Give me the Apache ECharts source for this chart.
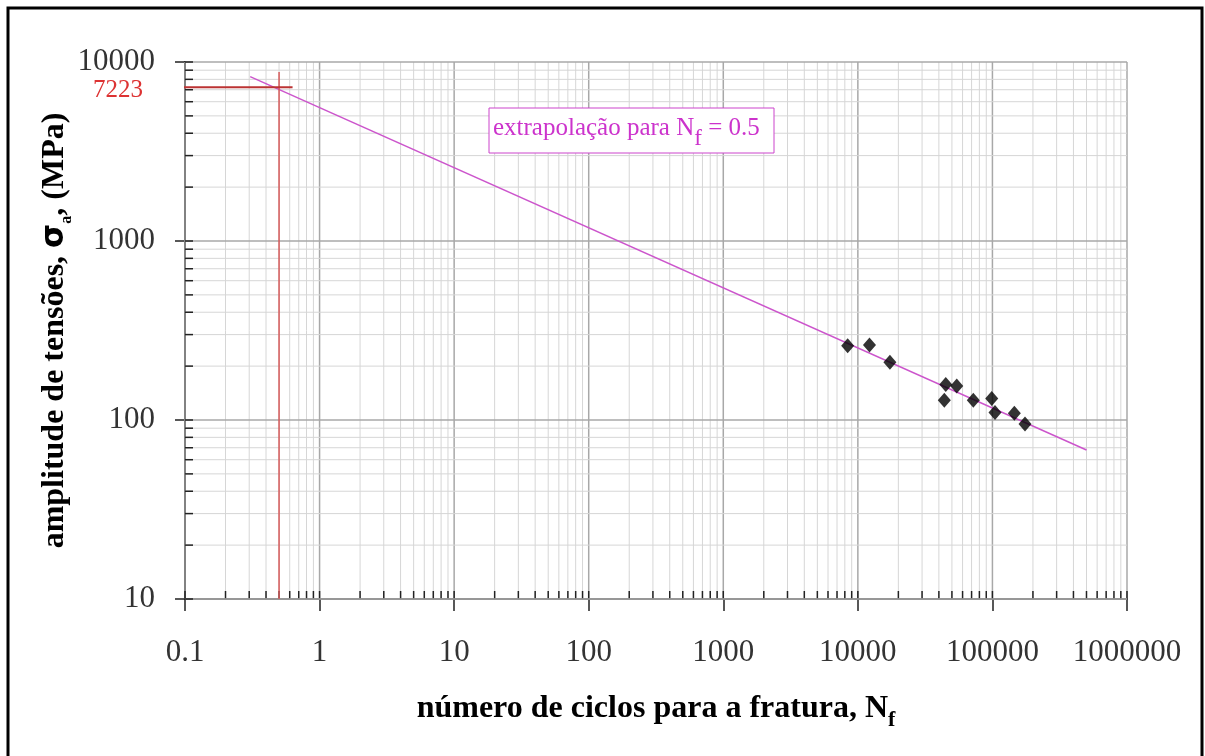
<!DOCTYPE html>
<html lang="pt">
<head>
  <meta charset="UTF-8">
  <title>Curva S-N</title>
  <script src="https://cdn.jsdelivr.net/npm/echarts@6/dist/echarts.min.js"></script>
</head>
<body style="margin:0;background:#fff;">
<div id="main" style="width:1205px;height:756px;"></div>
<script type="text/javascript">

// ciclos para a fratura (Nf) e amplitude de tensões (MPa) dos ensaios
const ciclos = [8400, 12200, 17300, 45000, 54300, 43900, 72100, 98800, 104500, 145500, 174600];
const tensoes = [260, 262, 210, 158, 155, 129, 129, 132, 110, 109, 95];

// reta de Basquin (extremos)
const retaCiclos = [0.305, 500000];
const retaTensoes = [8280, 68];

// extrapolação para Nf = 0.5
const nExtrap = 0.5;
const sigmaExtrap = 7223;
const topoVertical = 8800;
const horizCiclos = [0.0504, 0.63];

const xTickLabels = ['0.1', '1', '10', '100', '1000', '10000', '100000', '1000000'];
const yTickLabels = ['10', '100', '1000', '10000'];

const xMin = 0.1, xMax = 1000000, yMin = 10, yMax = 10000;

// posições das linhas de grade (1..9 em cada década)
function logPositions(min, max) {
  const out = [];
  for (let d = Math.round(Math.log10(min)); d < Math.round(Math.log10(max)); d++) {
    for (let m = 1; m < 10; m++) out.push([m * Math.pow(10, d), m === 1]);
  }
  out.push([max, true]);
  return out;
}
const xGrid = logPositions(xMin, xMax);
const yGrid = logPositions(yMin, yMax);

const serif = 'Liberation Serif';
const myChart = echarts.init(document.getElementById('main'));

function gridLine(major) {
  return {stroke: major ? '#a8a8a8' : '#d6d6d6', lineWidth: major ? 1.5 : 1};
}

const option = {
  animation: false,
  grid: {left: 185, right: 78, top: 62, bottom: 157},
  xAxis: {
    type: 'log',
    logBase: 10,
    min: xMin,
    max: xMax,
    splitNumber: 7,
    splitLine: {show: false},
    axisLine: {lineStyle: {color: '#333', width: 1.5}},
    axisTick: {length: 12, lineStyle: {color: '#222', width: 1.5}},
    axisLabel: {
      margin: 38,
      fontFamily: serif,
      fontSize: 31,
      color: '#333',
      formatter: v => xTickLabels[Math.round(Math.log10(v)) + 1]
    },
    name: '{t|número de ciclos para a fratura, N}{s|f}',
    nameLocation: 'middle',
    nameGap: 94,
    nameTextStyle: {
      rich: {
        t: {fontFamily: serif, fontWeight: 'bold', fontSize: 32, color: '#000', lineHeight: 38, verticalAlign: 'top'},
        s: {fontFamily: serif, fontWeight: 'bold', fontSize: 22, color: '#000', lineHeight: 38, verticalAlign: 'bottom'}
      }
    }
  },
  yAxis: {
    type: 'log',
    logBase: 10,
    min: yMin,
    max: yMax,
    splitNumber: 3,
    splitLine: {show: false},
    axisLine: {lineStyle: {color: '#111', width: 2}},
    axisTick: {length: 10, lineStyle: {color: '#222', width: 1.5}},
    axisLabel: {
      margin: 30,
      fontFamily: serif,
      fontSize: 31,
      color: '#333',
      formatter: v => yTickLabels[Math.round(Math.log10(v)) - 1]
    },
    name: '{t|amplitude de tensões, }{g|σ}{s|a}{t|, (MPa)}',
    nameLocation: 'middle',
    nameGap: 110,
    nameMoveOverlap: false,
    nameRotate: 90,
    nameTextStyle: {
      rich: {
        t: {fontFamily: serif, fontWeight: 'bold', fontSize: 32, color: '#000', lineHeight: 36, verticalAlign: 'top'},
        g: {fontFamily: 'DejaVu Sans', fontWeight: 'bold', fontSize: 31, color: '#000', lineHeight: 36, verticalAlign: 'top'},
        s: {fontFamily: serif, fontWeight: 'bold', fontSize: 16, color: '#000', lineHeight: 36, verticalAlign: 'bottom'}
      }
    }
  },
  graphic: [
    {
      type: 'rect',
      shape: {x: 8, y: 8, width: 1194, height: 760},
      style: {fill: 'none', stroke: '#000', lineWidth: 3},
      z: 100
    },
    {
      type: 'rect',
      shape: {x: 489, y: 108, width: 285, height: 45},
      style: {fill: '#fff', stroke: '#cc44cc', lineWidth: 1},
      z: 50
    },
    {
      type: 'text',
      x: 493,
      y: 116,
      z: 51,
      style: {
        text: '{t|extrapolação para N}{s|f}{t| = 0.5}',
        rich: {
          t: {fontFamily: serif, fontSize: 25, fill: '#cc33cc', lineHeight: 34, verticalAlign: 'top'},
          s: {fontFamily: serif, fontSize: 23, fill: '#cc33cc', lineHeight: 34, verticalAlign: 'bottom'}
        }
      }
    }
  ],
  series: [
    {
      // linhas de grade verticais + marcas menores
      type: 'custom',
      z: 1,
      silent: true,
      clip: false,
      data: xGrid.map(g => [g[0], yMin, g[1] ? 1 : 0]),
      renderItem: function (params, api) {
        const p0 = api.coord([api.value(0), yMin]);
        const p1 = api.coord([api.value(0), yMax]);
        const major = api.value(2) === 1;
        return {
          type: 'group',
          children: [
            {type: 'line', shape: {x1: p0[0], y1: p0[1], x2: p1[0], y2: p1[1]}, style: gridLine(major)},
            {type: 'line', shape: {x1: p0[0], y1: p0[1], x2: p0[0], y2: p0[1] - 8}, style: {stroke: '#222', lineWidth: 1.5}}
          ]
        };
      }
    },
    {
      // linhas de grade horizontais + marcas menores
      type: 'custom',
      z: 1,
      silent: true,
      clip: false,
      data: yGrid.map(g => [xMin, g[0], g[1] ? 1 : 0]),
      renderItem: function (params, api) {
        const p0 = api.coord([xMin, api.value(1)]);
        const p1 = api.coord([xMax, api.value(1)]);
        const major = api.value(2) === 1;
        return {
          type: 'group',
          children: [
            {type: 'line', shape: {x1: p0[0], y1: p0[1], x2: p1[0], y2: p1[1]}, style: gridLine(major)},
            {type: 'line', shape: {x1: p0[0], y1: p0[1], x2: p0[0] + 8, y2: p0[1]}, style: {stroke: '#222', lineWidth: 1.5}}
          ]
        };
      }
    },
    {
      name: 'Basquin',
      type: 'line',
      z: 3,
      silent: true,
      symbol: 'none',
      lineStyle: {color: '#cc55cc', width: 1.5},
      data: retaCiclos.map((n, i) => [n, retaTensoes[i]])
    },
    {
      name: 'vertical',
      type: 'line',
      z: 4,
      silent: true,
      symbol: 'none',
      lineStyle: {color: '#d65a5a', width: 1.5},
      data: [[nExtrap, yMin], [nExtrap, topoVertical]]
    },
    {
      name: 'horizontal',
      type: 'line',
      z: 4,
      silent: true,
      clip: false,
      symbol: 'circle',
      symbolSize: 0.1,
      showSymbol: true,
      itemStyle: {color: '#c0392b'},
      lineStyle: {color: '#bb3333', width: 2},
      data: [
        {
          value: [horizCiclos[0], sigmaExtrap],
          label: {
            show: true,
            position: 'left',
            distance: 2,
            offset: [0, 3],
            formatter: String(sigmaExtrap),
            fontFamily: serif,
            fontSize: 25,
            color: '#dd3333'
          }
        },
        [horizCiclos[1], sigmaExtrap]
      ]
    },
    {
      name: 'ensaios',
      type: 'scatter',
      z: 5,
      symbol: 'diamond',
      symbolSize: [13, 15],
      itemStyle: {color: '#000'},
      data: ciclos.map((n, i) => [n, tensoes[i]])
    }
  ]
};
myChart.setOption(option);
</script>
</body>
</html>
